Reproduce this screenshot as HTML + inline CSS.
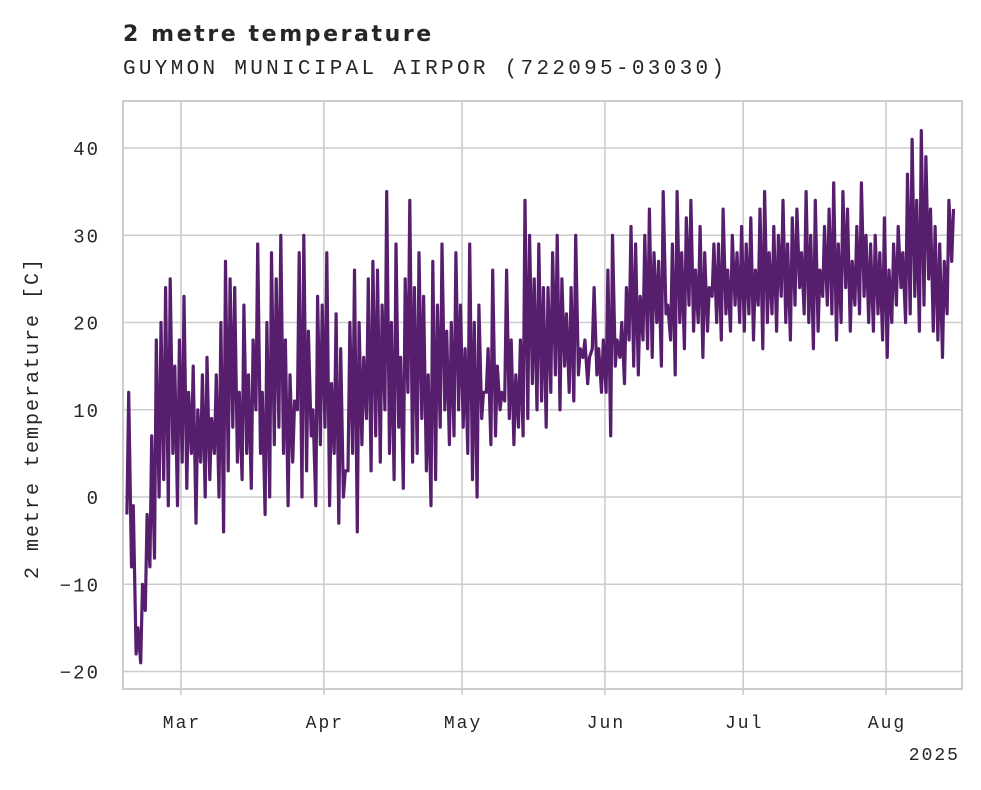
<!DOCTYPE html>
<html><head><meta charset="utf-8"><style>
body{margin:0;background:#fff;}
svg text{font-family:"Liberation Mono","DejaVu Sans Mono",monospace;fill:#262626;}
</style></head><body>
<svg id="chart" width="981" height="785" viewBox="0 0 981 785" xmlns="http://www.w3.org/2000/svg">
<text x="123" y="41" style="font-family:'DejaVu Sans','Liberation Sans',sans-serif;font-weight:bold;font-size:22px;letter-spacing:2.6px">2 metre temperature</text>
<text x="123" y="74" font-size="21" letter-spacing="3.3">GUYMON MUNICIPAL AIRPOR (722095-03030)</text>
<g id="grid"></g>
<g id="series"></g>
<rect x="123" y="101" width="839" height="588" fill="none" stroke="#cccccc" stroke-width="2"/>
<g id="axes"></g>
<text transform="translate(38,418) rotate(-90)" text-anchor="middle" font-size="20" letter-spacing="2">2 metre temperature [C]</text>
<text x="960" y="760" text-anchor="end" font-size="18" letter-spacing="2">2025</text>
</svg>
<script>
const monthLabels=["Mar","Apr","May","Jun","Jul","Aug"];
const monthDays=[0,31,61,92,122,153];
const yTicks=[-20,-10,0,10,20,30,40];
const startDay=-12; // Feb 17 relative to Mar 1
const tmin=[-2,-8,-18,-19,-13,-8,-7,0,2,-1,5,-1,
4,1,5,-3,4,0,2,5,0,-4,3,8,4,2,5,1,10,5,-2,0,6,8,5,-1,4,10,0,3,7,-1,6,
8,-1,5,-3,0,3,5,-4,6,9,3,7,4,10,5,2,8,1,12,4,5,9,3,-1,2,8,10,6,7,10,
8,5,2,0,9,12,6,7,10,11,9,6,8,7,9,13,10,11,8,12,14,10,15,12,11,14,16,13,17,14,12,
12,7,15,16,13,18,15,14,18,17,16,20,15,21,18,14,20,17,22,19,20,16,19,23,20,18,21,19,22,20,
19,21,18,22,17,20,21,19,23,20,18,22,24,21,20,17,19,23,22,21,18,20,24,19,22,21,23,20,19,21,18,
16,20,22,24,20,21,23,19,22,25,19,18,16,21,27];
const tmax=[12,-1,-15,-10,-2,7,18,20,24,25,15,18,
23,12,15,10,14,16,9,14,20,27,25,24,12,22,14,18,29,12,20,28,25,30,18,14,11,28,30,19,10,23,22,
28,13,21,17,3,20,26,20,16,25,27,26,22,35,20,29,16,25,34,24,28,23,14,27,22,29,19,20,28,22,
17,29,20,22,12,17,26,15,12,26,18,14,18,34,30,25,29,24,24,28,30,25,21,24,30,17,18,16,24,17,18,
26,30,18,20,24,31,29,23,30,33,28,27,35,22,29,35,28,32,34,26,31,28,24,29,29,33,26,30,28,31,
29,32,26,33,35,28,31,30,34,29,32,33,28,35,30,34,26,31,33,36,29,35,33,27,31,36,30,29,30,28,32,
26,29,31,28,37,41,34,42,39,33,31,29,27,34,33];
const NS="http://www.w3.org/2000/svg";
const x=d=>181+d*4.608;
const y=v=>497-v*8.725;
function mk(t,a){const e=document.createElementNS(NS,t);for(const k in a)e.setAttribute(k,a[k]);return e;}
const grid=document.getElementById('grid'),axes=document.getElementById('axes'),ser=document.getElementById('series');
yTicks.forEach(v=>{
 const l=mk('line',{x1:123,x2:962,y1:y(v),y2:y(v),stroke:'#cccccc','stroke-width':1.6});
 
 
 grid.appendChild(l);
 const t=mk('text',{x:100,y:y(v)+7,'text-anchor':'end','font-size':19,'letter-spacing':2});
 t.textContent=v<0?'\u2212'+Math.abs(v):String(v);
 
 
 axes.appendChild(t);
});
monthLabels.forEach((m,i)=>{
 const xx=x(monthDays[i]);
 const l=mk('line',{x1:xx,x2:xx,y1:101,y2:689,stroke:'#cccccc','stroke-width':1.6});
 
 
 grid.appendChild(l);
 const tk=mk('line',{x1:xx,x2:xx,y1:689,y2:695,stroke:'#cccccc','stroke-width':1.6});
 
 
 axes.appendChild(tk);
 const t=mk('text',{x:xx+1,y:728,'text-anchor':'middle','font-size':18,'letter-spacing':2});
 t.textContent=m;
 
 
 axes.appendChild(t);
});
let pts=[];
for(let i=0;i<tmin.length;i++){
 const d=startDay+i;
 pts.push(x(d+0.25).toFixed(1)+','+y(tmin[i]).toFixed(1));
 pts.push(x(d+0.65).toFixed(1)+','+y(tmax[i]).toFixed(1));
}
const pl=mk('polyline',{points:pts.join(' '),fill:'none',stroke:'#571e6e','stroke-width':3.2,'stroke-linejoin':'round'});


ser.appendChild(pl);
</script>
</body></html>
